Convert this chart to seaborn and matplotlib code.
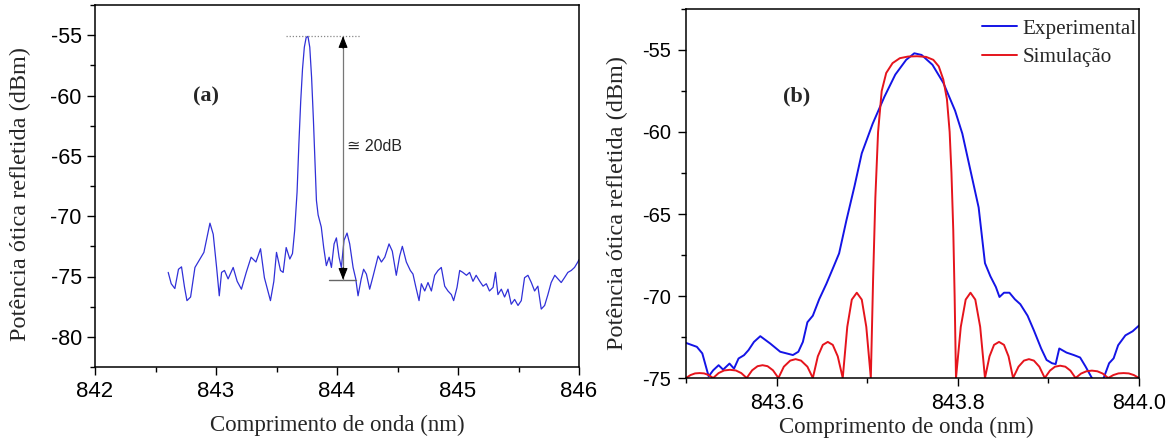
import matplotlib
matplotlib.use("Agg")
import matplotlib.pyplot as plt
import seaborn as sns
from matplotlib.ticker import MultipleLocator, FormatStrFormatter

# ---------------- data ----------------
# (a) full reflected spectrum
left_wl = [842.605, 842.63, 842.66, 842.69, 842.715, 842.74, 842.76, 842.79, 842.826, 842.867,
           842.9, 842.95, 842.977, 843.005, 843.027, 843.046, 843.07, 843.1, 843.142, 843.175,
           843.21, 843.25, 843.29, 843.33, 843.368, 843.4, 843.45, 843.478, 843.5, 843.533,
           843.555, 843.58, 843.61, 843.632, 843.65, 843.67, 843.685, 843.70, 843.715, 843.73,
           843.745, 843.76, 843.775, 843.79, 843.805, 843.82, 843.83, 843.844, 843.87, 843.89,
           843.912, 843.935, 843.954, 843.976, 843.995, 844.017, 844.036, 844.058, 844.083, 844.105,
           844.133, 844.155, 844.174, 844.2, 844.22, 844.243, 844.27, 844.3, 844.34, 844.367,
           844.395, 844.43, 844.457, 844.49, 844.518, 844.54, 844.573, 844.606, 844.628, 844.65,
           844.678, 844.697, 844.725, 844.752, 844.78, 844.807, 844.835, 844.862, 844.89, 844.917,
           844.945, 844.964, 844.992, 845.014, 845.04, 845.07, 845.096, 845.124, 845.15, 845.18,
           845.207, 845.234, 845.26, 845.29, 845.31, 845.33, 845.358, 845.385, 845.413, 845.44,
           845.468, 845.496, 845.523, 845.55, 845.578, 845.606, 845.633, 845.66, 845.688, 845.716,
           845.743, 845.77, 845.8, 845.826, 845.853, 845.88, 845.908, 845.936, 845.963, 845.99,
           846.0]
left_db = [-74.66, -75.6, -76.0, -74.4, -74.2, -75.9, -77.0, -76.7, -74.25, -73.55,
           -73.0, -70.58, -71.5, -74.25, -76.6, -74.66, -74.5, -75.2, -74.25, -75.4,
           -76.05, -74.66, -73.4, -73.8, -72.7, -75.1, -77.0, -75.4, -73.0, -74.5,
           -74.66, -72.6, -73.55, -73.1, -71.2, -68.0, -64.0, -60.5, -57.8, -56.0,
           -55.2, -55.1, -56.0, -58.5, -62.0, -66.0, -68.7, -69.9, -70.9, -72.6,
           -74.1, -73.4, -74.25, -72.3, -71.8, -73.4, -74.25, -72.0, -71.4, -72.3,
           -74.25, -75.2, -76.6, -75.2, -74.4, -74.8, -76.05, -74.9, -73.3, -73.8,
           -73.4, -72.3, -72.9, -74.9, -73.3, -72.5, -73.8, -74.5, -74.8, -75.8,
           -77.0, -75.6, -76.2, -75.5, -76.2, -74.9, -74.5, -74.25, -75.8, -76.2,
           -76.5, -77.0, -75.9, -74.5, -74.66, -74.9, -74.66, -75.4, -74.9, -75.4,
           -75.8, -75.6, -76.2, -75.9, -74.66, -76.5, -76.05, -76.7, -76.05, -77.3,
           -76.9, -77.4, -77.0, -75.1, -74.9, -75.5, -76.2, -75.8, -77.7, -77.4,
           -76.5, -75.5, -74.9, -75.2, -75.5, -75.1, -74.66, -74.5, -74.25, -73.8,
           -73.6]

# (b) zoom: experimental vs simulation
exp_wl = [843.5, 843.512, 843.518, 843.525, 843.530, 843.536, 843.541, 843.548, 843.553, 843.558,
          843.564, 843.569, 843.575, 843.582, 843.593, 843.604, 843.611, 843.618, 843.624, 843.629,
          843.634, 843.64, 843.647, 843.655, 843.663, 843.669, 843.677, 843.686, 843.694, 843.706,
          843.719, 843.731, 843.743, 843.752, 843.76, 843.772, 843.784, 843.797, 843.805, 843.813,
          843.823, 843.83, 843.836, 843.842, 843.846, 843.851, 843.857, 843.863, 843.869, 843.877,
          843.884, 843.892, 843.898, 843.904, 843.908, 843.912, 843.92, 843.928, 843.935, 843.941,
          843.948, 843.955, 843.961, 843.967, 843.972, 843.977, 843.985, 843.993, 844.0]
exp_db = [-72.86, -73.1, -73.5, -74.9, -74.53, -74.22, -74.49, -74.12, -74.43, -73.81,
          -73.61, -73.3, -72.8, -72.45, -72.9, -73.4, -73.5, -73.6, -73.4, -72.8,
          -71.6, -71.2, -70.2, -69.25, -68.2, -67.4, -65.4, -63.3, -61.3, -59.5,
          -57.85, -56.5, -55.6, -55.2, -55.3, -55.9, -57.0, -58.7, -60.1, -62.1,
          -64.6, -68.0, -68.8, -69.45, -70.06, -69.8, -69.8, -70.2, -70.5, -71.2,
          -72.1, -73.2, -73.9, -74.1, -74.15, -73.2, -73.45, -73.6, -73.75, -74.3,
          -75.0, -75.6, -75.0, -74.1, -73.8, -73.0, -72.4, -72.15, -71.8]

sim_wl = [843.500, 843.505, 843.510, 843.515, 843.520, 843.525,
          843.530, 843.536, 843.542, 843.5485, 843.555, 843.561,
          843.567, 843.573, 843.579, 843.5845, 843.590, 843.596,
          843.602, 843.608, 843.615, 843.621, 843.627, 843.634,
          843.640, 843.6455, 843.651, 843.6565, 843.662, 843.6675,
          843.673, 843.678, 843.683, 843.6885, 843.694, 843.699,
          843.704, 843.7065, 843.709, 843.712, 843.716, 843.721, 843.728, 843.736, 843.745,
          843.755, 843.765, 843.773, 843.779, 843.784, 843.788, 843.791, 843.793, 843.795, 843.7965,
          843.798, 843.8033, 843.8087, 843.814, 843.8193, 843.8247,
          843.830, 843.835, 843.840, 843.8455, 843.851, 843.856,
          843.861, 843.867, 843.873, 843.8785, 843.884, 843.890,
          843.896, 843.9017, 843.9073, 843.913, 843.9187, 843.9243,
          843.930, 843.936, 843.942, 843.948, 843.954, 843.960,
          843.966, 843.9717, 843.9773, 843.983, 843.9887, 843.9943, 844.0]
sim_db = [-75.0, -74.82, -74.72, -74.7, -74.72, -74.82,
          -75.0, -74.7, -74.54, -74.5, -74.54, -74.7,
          -75.0, -74.53, -74.28, -74.22, -74.28, -74.53,
          -75.0, -74.31, -73.94, -73.85, -73.94, -74.31,
          -75.0, -73.68, -72.98, -72.8, -72.98, -73.68,
          -75.0, -71.88, -70.22, -69.8, -70.22, -71.88,
          -75.0, -69.0, -64.0, -60.0, -57.5, -56.4, -55.8, -55.5, -55.4,
          -55.38, -55.42, -55.6, -56.0, -56.8, -58.0, -60.0, -62.5, -66.0, -70.0,
          -75.0, -71.88, -70.22, -69.8, -70.22, -71.88,
          -75.0, -73.68, -72.98, -72.8, -72.98, -73.68,
          -75.0, -74.31, -73.94, -73.85, -73.94, -74.31,
          -75.0, -74.55, -74.31, -74.25, -74.31, -74.55,
          -75.0, -74.73, -74.59, -74.55, -74.59, -74.73,
          -75.0, -74.82, -74.72, -74.7, -74.72, -74.82, -75.0]

# annotation levels in panel (a)
peak_level = -55.08
floor_level = -75.27
arrow_wl = 844.05

# ---------------- style ----------------
sns.set_style("ticks")
plt.rcParams.update({
    "font.family": ["Liberation Sans", "DejaVu Sans"],
    "axes.unicode_minus": False,
    "axes.edgecolor": "black",
    "axes.linewidth": 1.1,
    "xtick.color": "black",
    "ytick.color": "black",
})

W, H = 1173, 443
fig = plt.figure(figsize=(W / 100, H / 100), dpi=100)
fig.patch.set_facecolor("white")
ax1 = fig.add_axes([95 / W, 76 / H, 484 / W, 362 / H])
ax2 = fig.add_axes([686 / W, 65 / H, 453 / W, 369 / H])

serif = "Liberation Serif"

# ---------------- panel (a) ----------------
sns.lineplot(x=left_wl, y=left_db, ax=ax1, color="#3030d8", linewidth=0.9,
             estimator=None, sort=False)
ax1.set_xlim(842, 846)
ax1.set_ylim(-82.5, -52.5)
ax1.xaxis.set_major_locator(MultipleLocator(1))
ax1.xaxis.set_minor_locator(MultipleLocator(0.5))
ax1.yaxis.set_major_locator(MultipleLocator(5))
ax1.yaxis.set_minor_locator(MultipleLocator(2.5))
ax1.set_xlabel("Comprimento de onda (nm)", fontfamily=serif, fontsize=16.5)
ax1.set_ylabel("Potência ótica refletida (dBm)", fontfamily=serif, fontsize=17.5)
ax1.xaxis.set_label_coords(0.5, -0.133)
ax1.yaxis.set_label_coords(-0.132, 0.478)

# peak / floor annotation
ax1.plot([843.58, 844.19], [peak_level, peak_level], color="#888888", lw=0.9, ls=(0, (1, 1.5)))
ax1.plot([843.93, 844.16], [floor_level, floor_level], color="#666666", lw=1.0)
ax1.plot([arrow_wl, arrow_wl], [peak_level, floor_level], color="#777777", lw=0.9)
for tip, tail in ((peak_level, peak_level - 1.0), (floor_level, floor_level + 1.0)):
    ax1.annotate("", xy=(arrow_wl, tip), xytext=(arrow_wl, tail),
                 arrowprops=dict(arrowstyle="-|>,head_length=0.7,head_width=0.28",
                                 color="black", lw=0.8, shrinkA=0, shrinkB=0))
ax1.text(844.08, -64.2, "≅ 20dB", fontsize=11.5, va="center", ha="left",
         family=["Liberation Sans", "DejaVu Sans"])
ax1.text(842.92, -60.1, "(a)", fontfamily=serif, fontweight="bold", fontsize=16,
         ha="center", va="center")

# ---------------- panel (b) ----------------
sns.lineplot(x=exp_wl, y=exp_db, ax=ax2, color="#1414e6", linewidth=1.4,
             estimator=None, sort=False, label="Experimental")
sns.lineplot(x=sim_wl, y=sim_db, ax=ax2, color="#e5141c", linewidth=1.4,
             estimator=None, sort=False, label="Simulação")
ax2.set_xlim(843.5, 844.0)
ax2.set_ylim(-75, -52.5)
ax2.xaxis.set_major_locator(MultipleLocator(0.2))
ax2.xaxis.set_minor_locator(MultipleLocator(0.1))
ax2.xaxis.set_major_formatter(FormatStrFormatter("%.1f"))
ax2.yaxis.set_major_locator(MultipleLocator(5))
ax2.yaxis.set_minor_locator(MultipleLocator(2.5))
ax2.set_xlabel("Comprimento de onda (nm)", fontfamily=serif, fontsize=16.5)
ax2.set_ylabel("Potência ótica refletida (dBm)", fontfamily=serif, fontsize=17.5)
ax2.xaxis.set_label_coords(0.486, -0.105)
ax2.yaxis.set_label_coords(-0.128, 0.474)
ax2.text(843.622, -57.83, "(b)", fontfamily=serif, fontweight="bold", fontsize=16,
         ha="center", va="center")
leg = ax2.legend(loc="upper right", bbox_to_anchor=(1137 / W, (H - 19) / H),
                 bbox_transform=fig.transFigure, frameon=False,
                 prop={"family": serif, "size": 15.2}, handlelength=1.7,
                 handletextpad=0.25, labelspacing=0.42, borderpad=0, borderaxespad=0)

for ax, xs, ys, xpad, ypad in ((ax1, 16, 15.5, 4, 3.5), (ax2, 15.5, 14.5, 5, 5)):
    for s in ax.spines.values():
        s.set_visible(True)
        s.set_color("black")
        s.set_linewidth(1.1)
    ax.tick_params(which="major", direction="out", length=6, width=1.0)
    ax.tick_params(which="minor", direction="out", length=3.5, width=1.0)
    ax.tick_params(axis="x", which="major", labelsize=xs, pad=xpad)
    ax.tick_params(axis="y", which="major", labelsize=ys, pad=ypad)
    ax.tick_params(top=False, right=False, which="both")
    ax.grid(False)

fig.savefig("out.png", dpi=100, facecolor="white")
